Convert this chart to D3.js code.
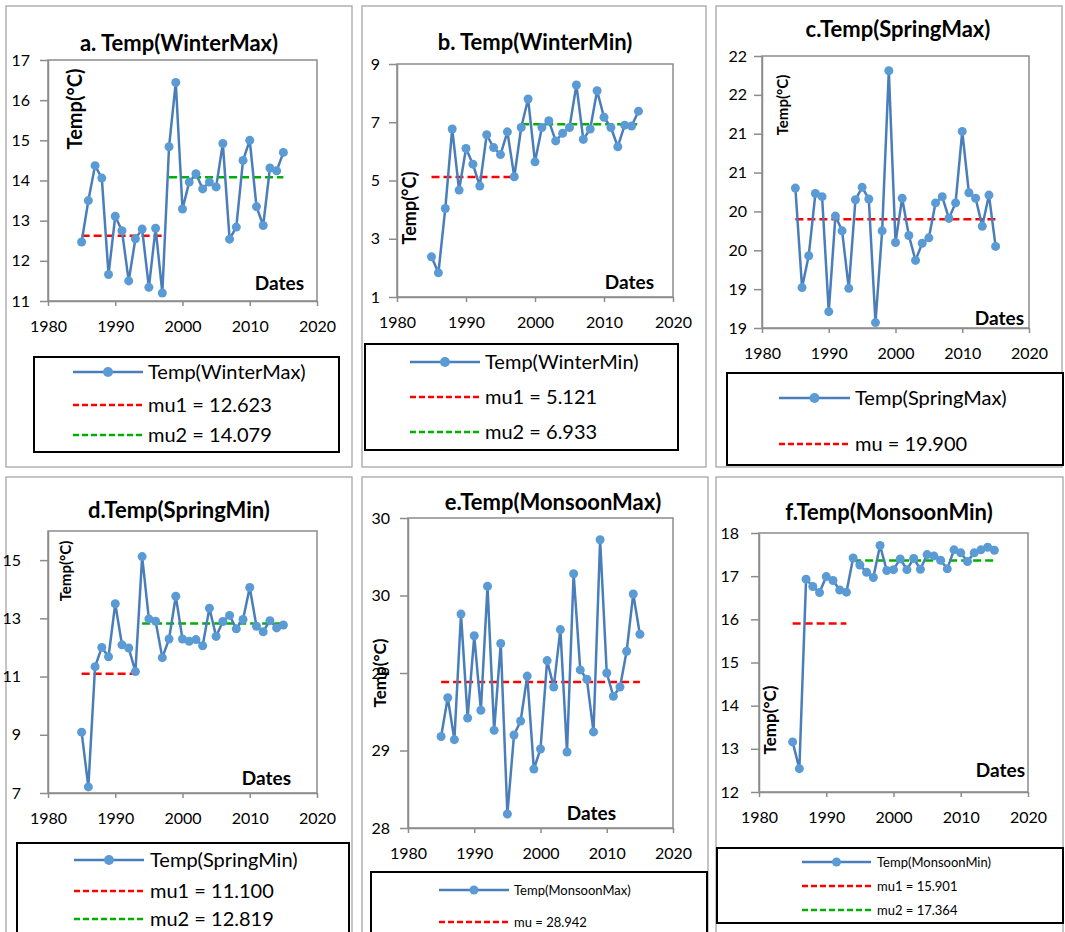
<!DOCTYPE html>
<html>
<head>
<meta charset="utf-8">
<script src="https://cdn.jsdelivr.net/npm/d3@7/dist/d3.min.js"></script>
<style>
  body { margin: 0; background: #fff; }
  svg { display: block; font-family: Lato, "Open Sans", sans-serif; }
  .tick text { fill: #000; }
</style>
</head>
<body>
<svg id="chart" width="1065" height="932"></svg>
<script>
// values
var years = [1985, 1986, 1987, 1988, 1989, 1990, 1991, 1992, 1993, 1994, 1995,
  1996, 1997, 1998, 1999, 2000, 2001, 2002, 2003, 2004, 2005, 2006, 2007, 2008,
  2009, 2010, 2011, 2012, 2013, 2014, 2015];
var xTicks = [1980, 1990, 2000, 2010, 2020];

var winterMax = [12.47, 13.50, 14.37, 14.06, 11.66, 13.11, 12.75, 11.50, 12.55, 12.79, 11.34,
  12.81, 11.20, 14.84, 16.44, 13.29, 13.96, 14.17, 13.79, 13.96, 13.84, 14.92, 12.54, 12.84,
  14.50, 15.00, 13.35, 12.88, 14.31, 14.24, 14.70];
var winterMin = [2.38, 1.83, 4.04, 6.77, 4.67, 6.10, 5.56, 4.81, 6.57, 6.13, 5.89,
  6.67, 5.13, 6.82, 7.80, 5.64, 6.82, 7.05, 6.36, 6.62, 6.82, 8.28, 6.41, 6.77,
  8.08, 7.17, 6.82, 6.16, 6.90, 6.87, 7.38];
var springMax = [20.30, 19.02, 19.43, 20.23, 20.19, 18.71, 19.94, 19.75, 19.01, 20.15, 20.31,
  20.16, 18.57, 19.75, 21.81, 19.60, 20.17, 19.69, 19.37, 19.59, 19.66, 20.11, 20.19, 19.91,
  20.11, 21.03, 20.24, 20.17, 19.81, 20.21, 19.55];
var springMin = [9.09, 7.21, 11.34, 12.00, 11.68, 13.50, 12.09, 11.98, 11.17, 15.12, 12.98,
  12.90, 11.65, 12.29, 13.76, 12.29, 12.21, 12.27, 12.06, 13.35, 12.38, 12.89, 13.10, 12.64,
  12.96, 14.06, 12.73, 12.54, 12.92, 12.67, 12.77];
var monsoonMax = [28.59, 28.84, 28.57, 29.38, 28.71, 29.24, 28.76, 29.56, 28.63, 29.19, 28.09,
  28.60, 28.69, 28.98, 28.38, 28.51, 29.08, 28.91, 29.28, 28.49, 29.64, 29.02, 28.96, 28.62,
  29.86, 29.00, 28.85, 28.91, 29.14, 29.51, 29.25];
var monsoonMin = [13.16, 12.54, 16.93, 16.76, 16.62, 16.99, 16.90, 16.68, 16.63, 17.42, 17.26,
  17.09, 16.97, 17.71, 17.13, 17.15, 17.40, 17.15, 17.41, 17.16, 17.50, 17.47, 17.37, 17.17,
  17.61, 17.54, 17.34, 17.54, 17.61, 17.67, 17.60];

// mean segments
var winterMaxMeans = [
  {label: "mu1 = 12.623", value: 12.623, from: 1985, to: 1997},
  {label: "mu2 = 14.079", value: 14.079, from: 1998, to: 2015}];
var winterMinMeans = [
  {label: "mu1 = 5.121", value: 5.121, from: 1985, to: 1997},
  {label: "mu2 = 6.933", value: 6.933, from: 1998, to: 2015}];
var springMaxMeans = [
  {label: "mu = 19.900", value: 19.900, from: 1985, to: 2015}];
var springMinMeans = [
  {label: "mu1 = 11.100", value: 11.100, from: 1985, to: 1993},
  {label: "mu2 = 12.819", value: 12.819, from: 1994, to: 2015}];
var monsoonMaxMeans = [
  {label: "mu = 28.942", value: 28.942, from: 1985, to: 2015}];
var monsoonMinMeans = [
  {label: "mu1 = 15.901", value: 15.901, from: 1985, to: 1993},
  {label: "mu2 = 17.364", value: 17.364, from: 1994, to: 2015}];

// y ticks and their labels
var winterMaxTicks = [11, 12, 13, 14, 15, 16, 17];
var winterMinTicks = [1, 3, 5, 7, 9];
var springMaxTicks = [18.5, 19, 19.5, 20, 20.5, 21, 21.5, 22];
var springMaxTickLabels = ["19", "19", "20", "20", "21", "21", "22", "22"];
var springMinTicks = [7, 9, 11, 13, 15];
var monsoonMaxTicks = [28, 28.5, 29, 29.5, 30];
var monsoonMaxTickLabels = ["28", "29", "29", "30", "30"];
var monsoonMinTicks = [12, 13, 14, 15, 16, 17, 18];

var lineColor = "#4a7ebb", markerColor = "#5b9bd5";
var meanColors = ["#ff0000", "#00b000"];
var gridGrey = "#8c8c8c";

var panels = [
  {title: "a. Temp(WinterMax)", name: "Temp(WinterMax)", values: winterMax, means: winterMaxMeans,
    ticks: winterMaxTicks, domain: [11, 17],
    frame: [6, 6, 352, 467], plot: [48, 60, 317, 301], titlePos: [179, 51], gap: 18,
    dates: [304, 290], ylab: [75, 109, 20],
    legend: {x: 34, y: 357, w: 305, h: 95, s1: 73, s2: 143, tx: 148, rows: [372, 405, 435], fs: 20}},
  {title: "b. Temp(WinterMin)", name: "Temp(WinterMin)", values: winterMin, means: winterMinMeans,
    ticks: winterMinTicks, domain: [1, 9],
    frame: [362, 6, 706, 467], plot: [397, 64, 673, 297], titlePos: [535, 50], gap: 17,
    dates: [654, 289], ylab: [410, 208, 18],
    legend: {x: 365, y: 344, w: 313, h: 106, s1: 410, s2: 480, tx: 485, rows: [362, 397, 432], fs: 20}},
  {title: "c.Temp(SpringMax)", name: "Temp(SpringMax)", values: springMax, means: springMaxMeans,
    ticks: springMaxTicks, tickLabels: springMaxTickLabels, domain: [18.5, 22],
    frame: [716, 6, 1062, 467], plot: [762, 56, 1029, 328], titlePos: [898, 37], gap: 15,
    dates: [1024, 325], ylab: [783, 105, 15],
    legend: {x: 727, y: 373, w: 336, h: 92, s1: 779, s2: 850, tx: 855, rows: [398, 444], fs: 20}},
  {title: "d.Temp(SpringMin)", name: "Temp(SpringMin)", values: springMin, means: springMinMeans,
    ticks: springMinTicks, domain: [7, 16],
    frame: [6, 477, 352, 945], plot: [48, 531, 317, 793], titlePos: [179, 518], gap: 27,
    dates: [291, 785], ylab: [66, 571, 15],
    legend: {x: 17, y: 843, w: 332, h: 100, s1: 74, s2: 144, tx: 150, rows: [860, 891, 919], fs: 20}},
  {title: "e.Temp(MonsoonMax)", name: "Temp(MonsoonMax)", values: monsoonMax, means: monsoonMaxMeans,
    ticks: monsoonMaxTicks, tickLabels: monsoonMaxTickLabels, domain: [28, 30],
    frame: [362, 477, 708, 945], plot: [408, 518, 673, 828], titlePos: [553, 510], gap: 18,
    dates: [616, 820], ylab: [380, 673, 17],
    legend: {x: 371, y: 872, w: 336, h: 80, s1: 439, s2: 509, tx: 514, rows: [890, 922], fs: 13}},
  {title: "f.Temp(MonsoonMin)", name: "Temp(MonsoonMin)", values: monsoonMin, means: monsoonMinMeans,
    ticks: monsoonMinTicks, domain: [12, 18],
    frame: [716, 477, 1063, 945], plot: [759, 533, 1028, 792], titlePos: [889, 520], gap: 20,
    dates: [1025, 777], ylab: [770, 720, 17],
    legend: {x: 717, y: 848, w: 346, h: 75, s1: 802, s2: 871, tx: 877, rows: [862, 886, 910], fs: 13}}
];

var svg = d3.select("#chart");

panels.forEach(function(p) {
  var g = svg.append("g");
  var f = p.frame, pl = p.plot;

  g.append("rect")
    .attr("x", f[0]).attr("y", f[1])
    .attr("width", f[2] - f[0]).attr("height", f[3] - f[1])
    .attr("fill", "#fff").attr("stroke", "#a6a6a6").attr("stroke-width", 1.3);

  var x = d3.scaleLinear().domain([1980, 2020]).range([pl[0], pl[2]]);
  var y = d3.scaleLinear().domain(p.domain).range([pl[3], pl[1]]);

  g.append("rect")
    .attr("x", pl[0]).attr("y", pl[1])
    .attr("width", pl[2] - pl[0]).attr("height", pl[3] - pl[1])
    .attr("fill", "none").attr("stroke", gridGrey).attr("stroke-width", 1.5);

  var yAxis = d3.axisLeft(y).tickValues(p.ticks).tickSize(8).tickSizeOuter(0)
    .tickPadding(p.gap - 8)
    .tickFormat(function(d, i) { return p.tickLabels ? p.tickLabels[i] : d; });
  var ya = g.append("g").attr("transform", "translate(" + pl[0] + ",0)").call(yAxis);

  var xAxis = d3.axisBottom(x).tickValues(xTicks).tickSize(5).tickSizeOuter(0)
    .tickPadding(14.5).tickFormat(d3.format("d"));
  var xa = g.append("g").attr("transform", "translate(0," + pl[3] + ")").call(xAxis);

  [ya, xa].forEach(function(a) {
    a.select(".domain").attr("stroke", gridGrey).attr("stroke-width", 1.5);
    a.selectAll(".tick line").attr("stroke", gridGrey).attr("stroke-width", 1.5);
    a.selectAll(".tick text").attr("font-size", 16).attr("font-family", "Lato, sans-serif");
  });

  // axis titles
  g.append("text")
    .attr("x", p.dates[0]).attr("y", p.dates[1])
    .attr("text-anchor", "end").attr("font-weight", "bold").attr("font-size", 19)
    .text("Dates");

  g.append("text")
    .attr("transform", "translate(" + p.ylab[0] + "," + p.ylab[1] + ") rotate(-90)")
    .attr("text-anchor", "middle").attr("dy", "0.35em")
    .attr("font-weight", "bold").attr("font-size", p.ylab[2])
    .text("Temp(\u00b0C)");

  g.append("text")
    .attr("x", p.titlePos[0]).attr("y", p.titlePos[1])
    .attr("text-anchor", "middle").attr("font-weight", "bold").attr("font-size", 22)
    .text(p.title);

  // mean lines
  p.means.forEach(function(m, i) {
    g.append("line")
      .attr("x1", x(m.from)).attr("x2", x(m.to))
      .attr("y1", y(m.value)).attr("y2", y(m.value))
      .attr("stroke", meanColors[i]).attr("stroke-width", 2.5)
      .attr("stroke-dasharray", "8,4");
  });

  // series
  var line = d3.line()
    .x(function(d, i) { return x(years[i]); })
    .y(function(d) { return y(d); });

  g.append("path")
    .datum(p.values)
    .attr("d", line)
    .attr("fill", "none").attr("stroke", lineColor).attr("stroke-width", 2.5)
    .attr("stroke-linejoin", "round");

  g.selectAll("circle.pt")
    .data(p.values)
    .enter().append("circle")
    .attr("class", "pt")
    .attr("cx", function(d, i) { return x(years[i]); })
    .attr("cy", function(d) { return y(d); })
    .attr("r", 4.5)
    .attr("fill", markerColor);

  // legend
  var L = p.legend;
  g.append("rect")
    .attr("x", L.x).attr("y", L.y).attr("width", L.w).attr("height", L.h)
    .attr("fill", "#fff").attr("stroke", "#000").attr("stroke-width", 2);

  var entries = [{label: p.name, kind: "series"}].concat(p.means.map(function(m, i) {
    return {label: m.label, kind: "mean", color: meanColors[i]};
  }));

  entries.forEach(function(e, i) {
    var cy = L.rows[i];
    if (e.kind === "series") {
      g.append("line")
        .attr("x1", L.s1).attr("x2", L.s2).attr("y1", cy).attr("y2", cy)
        .attr("stroke", lineColor).attr("stroke-width", 2.5);
      g.append("circle")
        .attr("cx", (L.s1 + L.s2) / 2).attr("cy", cy)
        .attr("r", L.fs > 15 ? 5 : 4.5).attr("fill", markerColor);
    } else {
      g.append("line")
        .attr("x1", L.s1).attr("x2", L.s2).attr("y1", cy).attr("y2", cy)
        .attr("stroke", e.color).attr("stroke-width", 2.5)
        .attr("stroke-dasharray", "6,3");
    }
    g.append("text")
      .attr("x", L.tx).attr("y", cy).attr("dy", "0.35em")
      .attr("font-size", L.fs)
      .text(e.label);
  });
});
</script>
</body>
</html>
